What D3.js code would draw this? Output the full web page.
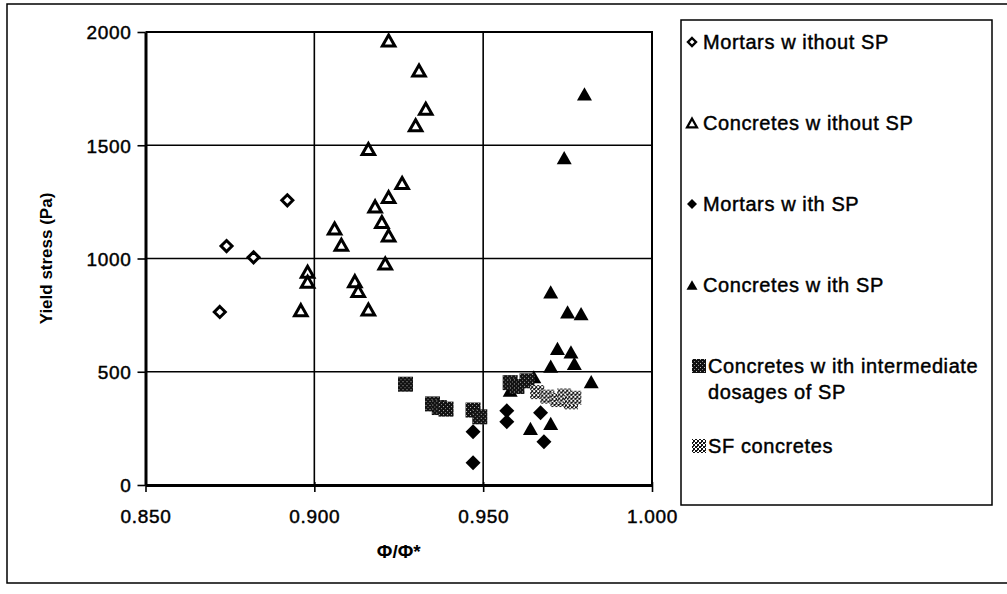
<!DOCTYPE html>
<html>
<head>
<meta charset="utf-8">
<script src="https://cdn.jsdelivr.net/npm/d3@7/dist/d3.min.js"></script>
<style>
  html, body { margin: 0; padding: 0; background: #fff; }
  svg { display: block; }
  text { font-family: "Liberation Sans", Arial, Helvetica, sans-serif; fill: #000; }
  .heavy { stroke: #000; stroke-width: 0.45px; }
</style>
</head>
<body>
<svg id="chart" width="1007" height="594"></svg>
<script>
// Packing ratio Φ/Φ* against yield stress (Pa)
const mortarsNoSP = [[0.872, 764], [0.874, 1055], [0.882, 1005], [0.892, 1257]];
const concretesNoSP = [
  [0.922, 1962], [0.931, 1830], [0.933, 1661], [0.930, 1588], [0.916, 1483],
  [0.926, 1333], [0.922, 1271], [0.918, 1230], [0.920, 1161], [0.922, 1102],
  [0.906, 1132], [0.908, 1061], [0.921, 978], [0.898, 941], [0.898, 897],
  [0.912, 900], [0.913, 856], [0.896, 772], [0.916, 775]
];
const mortarsSP = [[0.947, 98], [0.947, 235], [0.957, 328], [0.957, 279], [0.967, 319], [0.968, 191]];
const concretesSP = [
  [0.980, 1727], [0.974, 1445], [0.970, 853], [0.975, 764], [0.979, 757],
  [0.972, 603], [0.976, 588], [0.977, 537], [0.970, 525], [0.965, 478],
  [0.982, 456], [0.958, 419], [0.964, 250], [0.970, 272]
];
const concretesMidSP = [
  [0.927, 445], [0.935, 358], [0.937, 342], [0.939, 335], [0.947, 331],
  [0.949, 301], [0.958, 452], [0.960, 435], [0.963, 460]
];
const sfConcretes = [[0.966, 410], [0.969, 390], [0.972, 375], [0.974, 395], [0.976, 365], [0.977, 385]];

const xTicks = [0.85, 0.90, 0.95, 1.00];
const yTicks = [0, 500, 1000, 1500, 2000];
const seriesNames = [
  "Mortars w ithout SP",
  "Concretes w ithout SP",
  "Mortars w ith SP",
  "Concretes w ith SP",
  "Concretes w ith intermediate|dosages of SP",
  "SF concretes"
];

const svg = d3.select("#chart");

// fill textures for the two square markers
const defs = svg.append("defs");
const stip = defs.append("pattern").attr("id", "stipple")
  .attr("width", 4).attr("height", 4).attr("patternUnits", "userSpaceOnUse");
stip.append("rect").attr("width", 4).attr("height", 4).attr("fill", "#111");
stip.append("rect").attr("x", 1).attr("y", 1).attr("width", 1).attr("height", 1).attr("fill", "#bbb");
stip.append("rect").attr("x", 3).attr("y", 3).attr("width", 1).attr("height", 1).attr("fill", "#888");

const check = defs.append("pattern").attr("id", "checker")
  .attr("width", 4).attr("height", 4).attr("patternUnits", "userSpaceOnUse");
check.append("rect").attr("width", 4).attr("height", 4).attr("fill", "#fff");
check.append("rect").attr("x", 0).attr("y", 0).attr("width", 2).attr("height", 2).attr("fill", "#111");
check.append("rect").attr("x", 2).attr("y", 2).attr("width", 2).attr("height", 2).attr("fill", "#111");
check.append("rect").attr("x", 2).attr("y", 0).attr("width", 1).attr("height", 1).attr("fill", "#333");

// outer frame
svg.append("path")
  .attr("d", "M1010,4 H7 V583 H1010")
  .attr("fill", "none").attr("stroke", "#000").attr("stroke-width", 1.5);

const x = d3.scaleLinear().domain([0.85, 1.0]).range([145.5, 652]);
const y = d3.scaleLinear().domain([0, 2000]).range([485, 32]);

const g = svg.append("g");

// gridlines
g.append("g").selectAll("line").data(yTicks.filter(d => d > 0 && d < 2000)).join("line")
  .attr("x1", x(0.85)).attr("x2", x(1.0))
  .attr("y1", d => y(d)).attr("y2", d => y(d))
  .attr("stroke", "#000").attr("stroke-width", 1.6);
g.append("g").selectAll("line").data(xTicks.filter(d => d > 0.85 && d < 1.0)).join("line")
  .attr("y1", y(0)).attr("y2", y(2000))
  .attr("x1", d => x(d)).attr("x2", d => x(d))
  .attr("stroke", "#000").attr("stroke-width", 1.6);

// plot frame (top and right)
g.append("path")
  .attr("d", `M${x(0.85)},${y(2000)} H${x(1.0)} V${y(0)}`)
  .attr("fill", "none").attr("stroke", "#000").attr("stroke-width", 2);

// axes
const yAxis = d3.axisLeft(y).tickValues(yTicks).tickFormat(d3.format("d")).tickSizeInner(8).tickSizeOuter(0).tickPadding(6);
const xAxis = d3.axisBottom(x).tickValues(xTicks).tickFormat(d3.format(".3f")).tickSizeInner(7).tickSizeOuter(0).tickPadding(18);

const ya = g.append("g").attr("transform", `translate(${x(0.85)},0)`).call(yAxis);
const xa = g.append("g").attr("transform", `translate(0,${y(0)})`).call(xAxis);
[ya, xa].forEach(a => {
  a.select(".domain").attr("stroke", "#000").attr("stroke-width", 3);
  a.selectAll(".tick line").attr("stroke", "#000").attr("stroke-width", 1.6);
  a.selectAll(".tick text").attr("font-size", 19).attr("class", "heavy")
    .attr("letter-spacing", 0.7)
    .attr("font-family", "Liberation Sans, Arial, sans-serif").attr("fill", "#000");
});
ya.selectAll(".tick text").attr("dy", "0.36em");
xa.selectAll(".tick line").attr("y1", -3);

// axis titles
svg.append("text")
  .attr("transform", `translate(52,${(y(0) + y(2000)) / 2}) rotate(-90)`)
  .attr("text-anchor", "middle").attr("font-size", 17).attr("font-weight", "bold")
  .text("Yield stress (Pa)");
svg.append("text")
  .attr("x", (x(0.85) + x(1.0)) / 2).attr("y", 558)
  .attr("text-anchor", "middle").attr("font-size", 19).attr("font-weight", "bold")
  .text("Φ/Φ*");

// marker shapes as d3 symbol types
const triangle = {
  draw(ctx, size) {
    const w = Math.sqrt(size), h = w * 0.88;
    ctx.moveTo(0, -h / 2); ctx.lineTo(w / 2, h / 2); ctx.lineTo(-w / 2, h / 2); ctx.closePath();
  }
};
const diamond = {
  draw(ctx, size) {
    const r = Math.sqrt(size) / 2;
    ctx.moveTo(0, -r); ctx.lineTo(r, 0); ctx.lineTo(0, r); ctx.lineTo(-r, 0); ctx.closePath();
  }
};
const square = {
  draw(ctx, size) {
    const r = Math.sqrt(size) / 2;
    ctx.rect(-r, -r, 2 * r, 2 * r);
  }
};

const styles = [
  { data: mortarsNoSP,   type: diamond,  size: 11 * 11, fill: "#fff", stroke: "#000", sw: 3 },
  { data: concretesNoSP, type: triangle, size: 12.5 * 12.5, fill: "#fff", stroke: "#000", sw: 3 },
  { data: mortarsSP,     type: diamond,  size: 15 * 15, fill: "#000", stroke: "none", sw: 0 },
  { data: concretesSP,   type: triangle, size: 15 * 15, fill: "#000", stroke: "none", sw: 0 },
  { data: concretesMidSP, type: square,  size: 15 * 15, fill: "url(#stipple)", stroke: "none", sw: 0 },
  { data: sfConcretes,   type: square,   size: 14 * 14, fill: "url(#checker)", stroke: "none", sw: 0 }
];

const sym = d3.symbol();
styles.forEach(s => {
  g.append("g").selectAll("path").data(s.data).join("path")
    .attr("transform", d => `translate(${x(d[0])},${y(d[1])})`)
    .attr("d", sym.type(s.type).size(s.size)())
    .attr("fill", s.fill).attr("stroke", s.stroke).attr("stroke-width", s.sw)
    .attr("stroke-linejoin", "miter");
});

// legend
const lg = svg.append("g");
lg.append("rect").attr("x", 681).attr("y", 20).attr("width", 311).attr("height", 485)
  .attr("fill", "#fff").attr("stroke", "#000").attr("stroke-width", 1.5);

const legendY = [42, 123, 204, 285, 366, 446];
const legendSizes = [8 * 8, 10 * 10, 10 * 10, 11 * 11, 14 * 14, 14 * 14];
const legendSw = [2.4, 2.2, 0, 0, 0, 0];
styles.forEach((s, i) => {
  const isSq = s.type === square;
  lg.append("path")
    .attr("transform", `translate(${isSq ? 699 : 692},${legendY[i]})`)
    .attr("d", sym.type(s.type).size(legendSizes[i])())
    .attr("fill", s.fill).attr("stroke", s.stroke).attr("stroke-width", legendSw[i]);
  const tx = isSq ? 708 : 703;
  const t = lg.append("text").attr("class", "heavy")
    .attr("x", tx).attr("y", legendY[i]).attr("font-size", 20).attr("letter-spacing", 0.6);
  seriesNames[i].split("|").forEach((ln, k) => {
    t.append("tspan").attr("x", tx).attr("dy", k === 0 ? "0.36em" : "1.3em").text(ln);
  });
});
</script>
</body>
</html>
